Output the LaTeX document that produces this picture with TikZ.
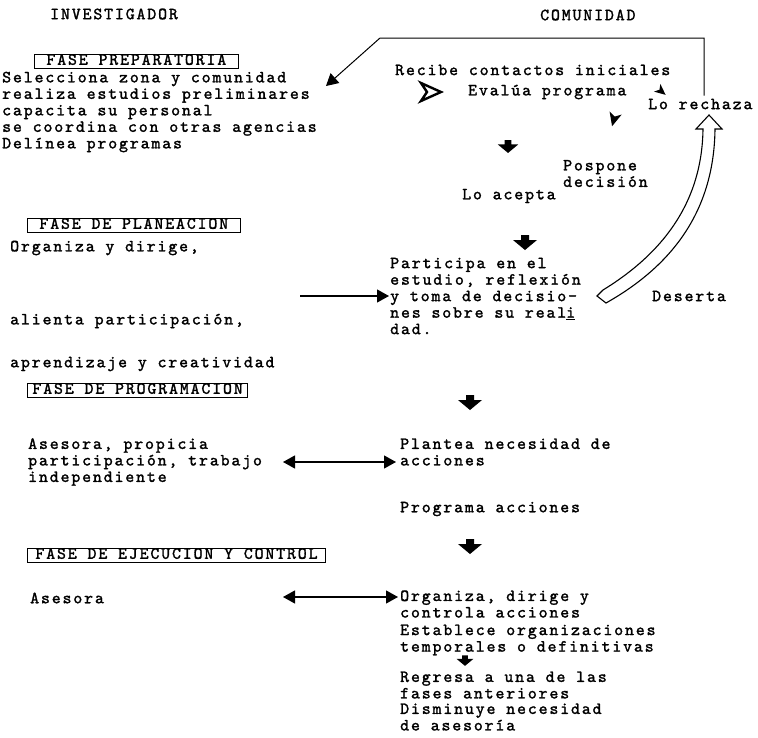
\documentclass[tikz,border=0pt]{standalone}
\usepackage{fontspec}
\newfontfamily\tw{lmmono10-regular.otf}[LetterSpace=11,FakeBold=1.6]
\usetikzlibrary{arrows.meta,calc}
\tikzset{
  txt/.style={inner sep=0pt, anchor=west, align=left, font=\tw\fontsize{17}{16.5}\selectfont},
  fase/.style={txt, draw, line width=0.9pt, inner xsep=12pt, inner ysep=0pt, text height=9pt, text depth=1.5pt, minimum height=14pt},
  onearrow/.style={-{Triangle[length=12pt,width=13pt]}, line width=1.2pt},
  twoarrow/.style={{Triangle[length=12pt,width=13pt]}-{Triangle[length=12pt,width=13pt]}, line width=1.2pt},
  fatdown/.pic={\fill (-4,-8) -- (4,-8) -- (4,-3) -- (12,-3) -- (0,7) -- (-12,-3) -- (-4,-3) -- cycle;},
  wedge/.pic={\fill (6,0) -- (-5,-5) -- (-2,0) -- (-5,5) -- cycle;}
}
\begin{document}
\begin{tikzpicture}[x=1pt,y=-1pt]
\useasboundingbox (0,0) rectangle (758,737);
\fill[white] (0,0) rectangle (758,737);

% headers
\node[txt] (inv) at (50,14) {INVESTIGADOR};
\node[txt] (com) at (540,15) {COMUNIDAD};

% left column
\node[fase] (f1) at (34,61) {FASE PREPARATORIA};
\node[txt] (sel) at (2,112) {Selecciona zona y comunidad\\realiza estudios preliminares\\capacita su personal\\se coordina con otras agencias\\Delínea programas};
\node[fase] (f2) at (27,225) {FASE DE PLANEACION};
\node[txt] (org) at (10,248) {Organiza y dirige,};
\node[txt] (ali) at (10,321) {alienta participación,};
\node[txt] (apr) at (10,364) {aprendizaje y creatividad};
\node[fase, inner xsep=5pt] (f3) at (27,390) {FASE DE PROGRAMACION};
\node[txt] (ase) at (28,462) {Asesora, propicia\\participación, trabajo\\independiente};
\node[fase, inner xsep=8pt] (f4) at (27,555) {FASE DE EJECUCION Y CONTROL};
\node[txt] (ases) at (30,598) {Asesora};

% right column
\node[txt] (rec) at (395,70) {Recibe contactos iniciales};
\node[txt] (eva) at (468,92) {Evalúa programa};
\node[txt] (rech) at (648,104) {Lo rechaza};
\node[txt] (pos) at (563,173.5) {Pospone\\decisión};
\node[txt] (acep) at (462,196) {Lo acepta};
\node[txt] (par) at (390,296) {Participa en el\\estudio, reflexión\\y toma de decisio-\\nes sobre su real\underline{i}\\dad.};
\node[txt] (des) at (652,296) {Deserta};
\node[txt] (pla) at (400,452) {Plantea necesidad de\\acciones};
\node[txt] (prog) at (400,509) {Programa acciones};
\node[txt] (orgc) at (400,604) {Organiza, dirige y\\controla acciones};
\node[txt] (est) at (400,640) {Establece organizaciones\\temporales o definitivas};
\node[txt] (reg) at (400,685) {Regresa a una de las\\fases anteriores};
\node[txt] (dis) at (400,717) {Disminuye necesidad\\de asesoría};

% glyph arrows around "Evalúa programa"
\draw[line width=2.4pt, line join=miter] (421,83) -- (441,92) -- (421,101) -- (427,92) -- cycle;
\pic[rotate=-40] at (661,91) {wedge};
\pic[rotate=-105, scale=1.25] at (614,119) {wedge};
\pic[scale=0.85] at (508,147) {fatdown};

% fat down arrows
\pic at (525,243) {fatdown};
\pic at (470,403) {fatdown};
\pic at (470,547) {fatdown};
\pic[scale=0.7] at (465,661) {fatdown};

% return connector from "Lo rechaza" to the investigator
\coordinate (vx) at (704,0);
\coordinate (tl) at (380,38);
\coordinate (tip) at (326,86);
\draw[onearrow, line width=1pt] ([yshift=3pt]rech.north -| vx) |- (tl) -- (tip);

% horizontal arrows
\coordinate (a1) at (300,296);
\draw[onearrow] (a1) -- ([xshift=-1pt]par.west);
\coordinate (a2) at (283,462);
\draw[twoarrow] (a2) -- ([xshift=-4pt]a2 -| pla.west);
\coordinate (a3) at (283,597);
\draw[twoarrow] (a3) -- ([xshift=-2pt]a3 -| orgc.west);

% hollow curved arrow "Deserta"
\draw[line width=1.1pt, fill=white, line join=miter]
  (597,296) -- (606,303) .. controls (668,268) and (714,215) .. (715,129)
  -- (722,129) -- (709,115) -- (696,129) -- (703,129)
  .. controls (702,205) and (660,255) .. (603,290) -- cycle;
\end{tikzpicture}
\end{document}
